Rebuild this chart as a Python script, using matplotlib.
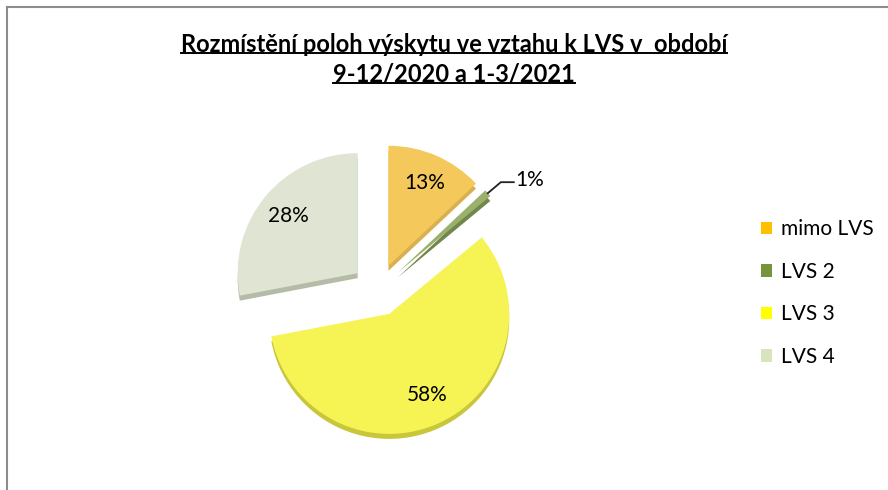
import numpy as np
import matplotlib
matplotlib.use('Agg')
import matplotlib.pyplot as plt
from matplotlib.patches import Patch
from matplotlib.lines import Line2D

# data
categories = ['mimo LVS', 'LVS 2', 'LVS 3', 'LVS 4']
shares = [13, 1, 58, 28]
slice_colors = ['#F5C85C', '#9BB06C', '#F6F455', '#DFE5D2']
side_colors = ['#D8B050', '#72884A', '#C8C63A', '#B4BBA6']
legend_colors = ['#FFC000', '#77933C', '#FFFF00', '#D7E4BD']
title_lines = ['Rozmístění poloh výskytu ve vztahu k LVS v  období', '9-12/2020 a 1-3/2021']

plt.rcParams['font.family'] = ['Lato', 'DejaVu Sans']

W, H = 888, 490
fig = plt.figure(figsize=(W / 100, H / 100), dpi=100)
ax = fig.add_axes([0, 0, 1, 1])

cx, cy, R = 378, H - 290, 120
expl = [0.22 * R] * len(shares)  # explode is in data units (pixels here)

# side (3d depth) then top
ax.pie(shares, colors=side_colors, startangle=90, counterclock=False, explode=expl,
       center=(cx, cy - 5), radius=R, wedgeprops=dict(linewidth=0), frame=True)
wedges, _ = ax.pie(shares, colors=slice_colors, startangle=90, counterclock=False,
                   explode=expl, center=(cx, cy), radius=R,
                   wedgeprops=dict(linewidth=0), frame=True)
ax.set_xlim(0, W)
ax.set_ylim(0, H)
ax.set_aspect('equal')
ax.axis('off')

for w, v in zip(wedges, shares):
    mid = np.deg2rad((w.theta1 + w.theta2) / 2)
    x0, y0 = w.center
    if v < 5:
        px, py = x0 + R * np.cos(mid), y0 + R * np.sin(mid)
        ax.plot([px, px + 13, px + 26], [py, py + 11, py + 11], color='#222222', lw=1.3)
        ax.text(px + 27, py + 13, f'{v}%', ha='left', va='center', fontsize=15)
    else:
        d = 0.75 * R
        ax.text(x0 + d * np.cos(mid), y0 + d * np.sin(mid), f'{v}%',
                ha='center', va='center', fontsize=15)

# frame lines (top and left)
fig.add_artist(Line2D([7 / W, 1], [1 - 7 / H, 1 - 7 / H], color='#8C8C8C', lw=1.5))
fig.add_artist(Line2D([7 / W, 7 / W], [0, 1 - 7 / H], color='#8C8C8C', lw=1.5))

# title with underline
t1 = fig.text(454 / W, 1 - 44 / H, title_lines[0], ha='center', va='center',
              fontsize=17, fontweight='bold')
t2 = fig.text(454 / W, 1 - 74 / H, title_lines[1], ha='center', va='center',
              fontsize=17, fontweight='bold')
fig.canvas.draw()
r = fig.canvas.get_renderer()
for t in (t1, t2):
    bb = t.get_window_extent(r)
    yl = bb.y0 + 2
    fig.add_artist(Line2D([bb.x0 / W, bb.x1 / W], [yl / H, yl / H], color='black', lw=1.4))

handles = [Patch(facecolor=c, edgecolor='none') for c in legend_colors]
fig.legend(handles, categories, loc='center left', bbox_to_anchor=(742 / W, 1 - 293 / H),
           frameon=False, fontsize=15, handlelength=0.55, handleheight=0.55,
           handletextpad=0.4, labelspacing=1.08)

fig.savefig('out.png', dpi=100)
